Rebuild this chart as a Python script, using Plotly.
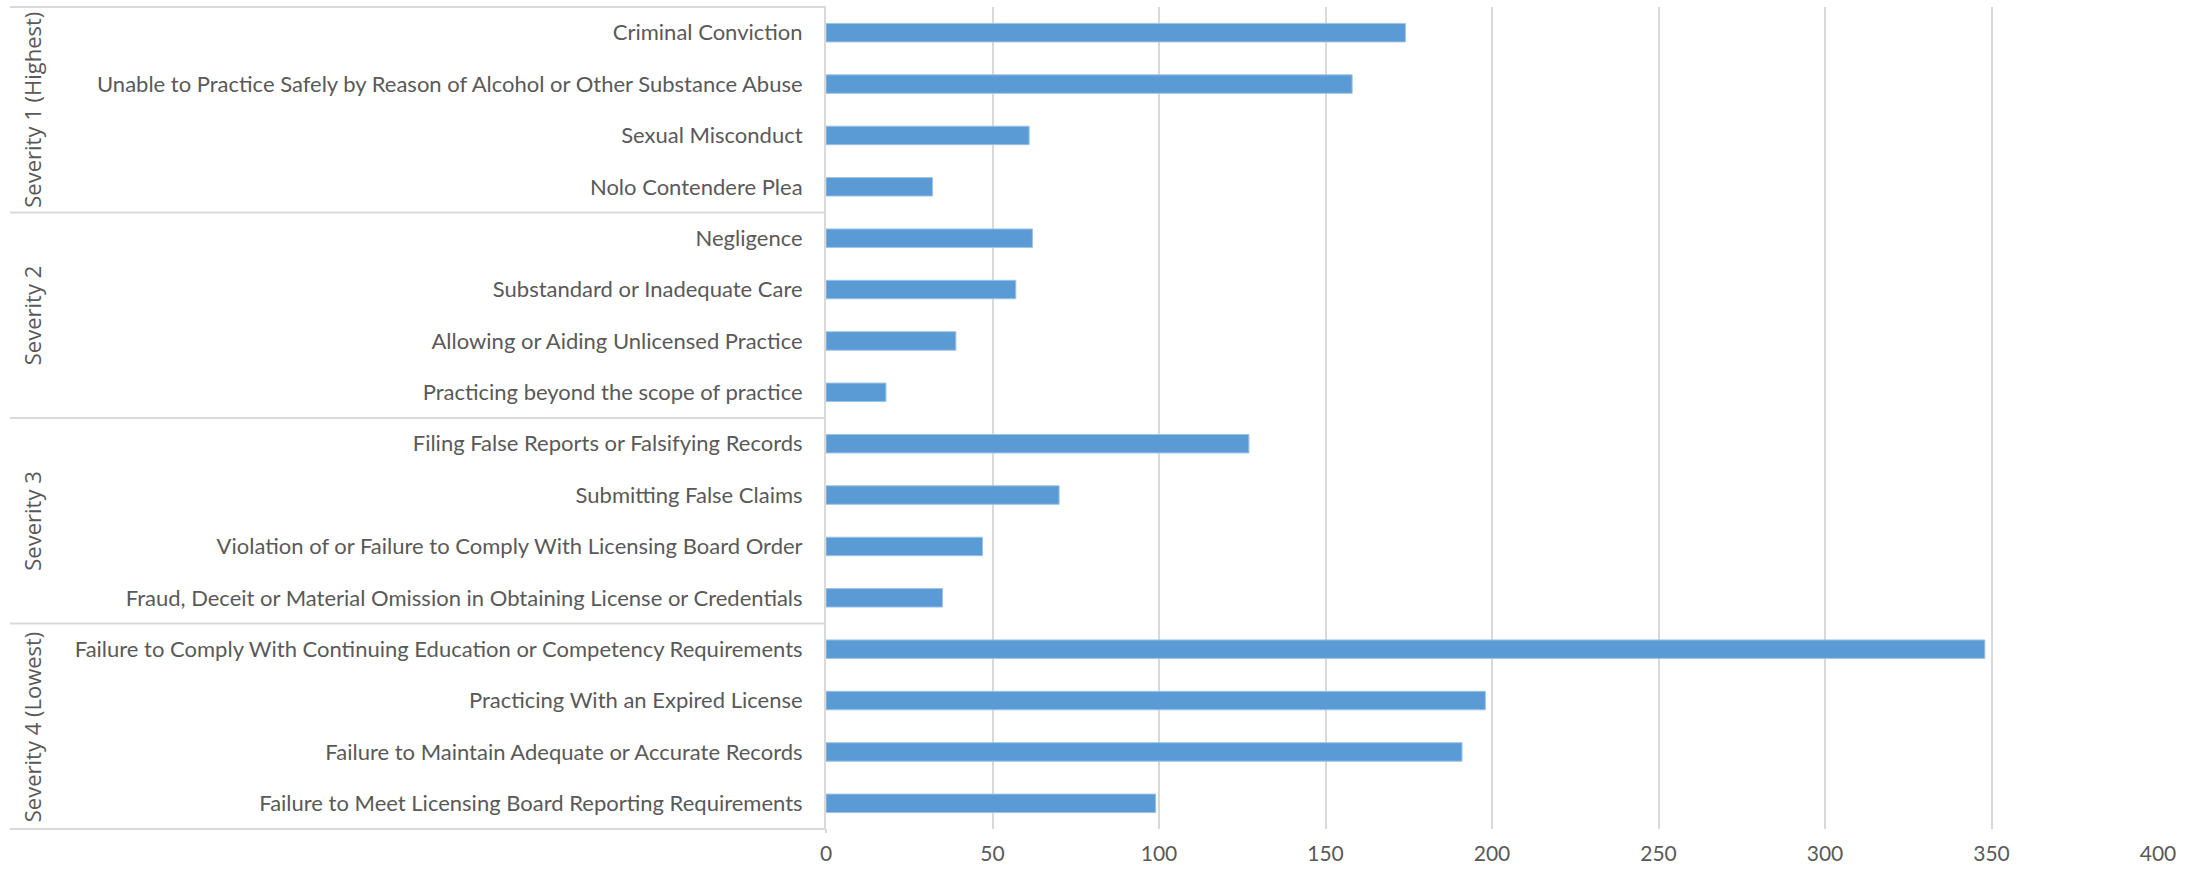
import plotly.graph_objects as go

# Violation types, top to bottom, grouped by severity
categories = [
    "Criminal Conviction",
    "Unable to Practice Safely by Reason of Alcohol or Other Substance Abuse",
    "Sexual Misconduct",
    "Nolo Contendere Plea",
    "Negligence",
    "Substandard or Inadequate Care",
    "Allowing or Aiding Unlicensed Practice",
    "Practicing beyond the scope of practice",
    "Filing False Reports or Falsifying Records",
    "Submitting False Claims",
    "Violation of or Failure to Comply With Licensing Board Order",
    "Fraud, Deceit or Material Omission in Obtaining License or Credentials",
    "Failure to Comply With Continuing Education or Competency Requirements",
    "Practicing With an Expired License",
    "Failure to Maintain Adequate or Accurate Records",
    "Failure to Meet Licensing Board Reporting Requirements",
]
counts = [174, 158, 61, 32, 62, 57, 39, 18, 127, 70, 47, 35, 348, 198, 191, 99]

severity_groups = ["Severity 1 (Highest)", "Severity 2", "Severity 3", "Severity 4 (Lowest)"]
group_sizes = [4, 4, 4, 4]

x_ticks = [0, 50, 100, 150, 200, 250, 300, 350, 400]

W, H = 2203, 872
M_L, M_R, M_T, M_B = 826, 45, 7, 43
plot_w = W - M_L - M_R

LABEL_FONT = "Lato, Roboto, Liberation Sans, sans-serif"
GRID = "#d9d9d9"
TEXT = "#595959"

fig = go.Figure(
    go.Bar(
        x=counts,
        y=categories,
        orientation="h",
        marker=dict(color="#5b9bd5", line=dict(color="#9dc3e6", width=1)),
        width=0.36,
        hoverinfo="x+y",
    )
)

# Group dividers and rotated group labels in the left margin
left_edge = (10 - M_L) / plot_w
total = sum(group_sizes)
shapes = []
annotations = []
cum = 0
boundaries = [0]
for size in group_sizes:
    cum += size
    boundaries.append(cum)
for b in boundaries:
    yp = 1 - b / total
    shapes.append(dict(type="line", xref="paper", yref="paper",
                       x0=left_edge, x1=0, y0=yp, y1=yp,
                       line=dict(color=GRID, width=2)))
for i, name in enumerate(severity_groups):
    y_mid = 1 - (boundaries[i] + boundaries[i + 1]) / 2 / total
    annotations.append(dict(
        text=name, xref="paper", yref="paper",
        x=(32 - M_L) / plot_w, y=y_mid, xanchor="center", yanchor="middle",
        textangle=-90, showarrow=False,
        font=dict(family="Open Sans, DejaVu Sans, sans-serif", size=22, color=TEXT),
    ))

# small tick stub below the category axis
shapes.append(dict(type="line", xref="paper", yref="paper",
                   x0=0, x1=0, y0=0, y1=-4 / (H - M_T - M_B),
                   line=dict(color=GRID, width=2)))

fig.update_layout(
    width=W, height=H,
    margin=dict(l=M_L, r=M_R, t=M_T, b=M_B),
    paper_bgcolor="white", plot_bgcolor="white",
    showlegend=False,
    bargap=0.64,
    shapes=shapes,
    annotations=annotations,
    xaxis=dict(
        range=[0, 400], tickvals=x_ticks,
        showgrid=True, gridcolor=GRID, gridwidth=2,
        zeroline=False, showline=False, ticks="",
        tickfont=dict(family=LABEL_FONT, size=21, color=TEXT),
        ticklabelstandoff=10,
        fixedrange=True,
    ),
    yaxis=dict(
        categoryorder="array", categoryarray=categories,
        autorange="reversed",
        showline=True, linecolor=GRID, linewidth=2,
        showgrid=False, ticks="",
        tickfont=dict(family=LABEL_FONT, size=22, color=TEXT),
        ticklabelstandoff=17,
        fixedrange=True,
    ),
)

fig.write_html("out.html")
